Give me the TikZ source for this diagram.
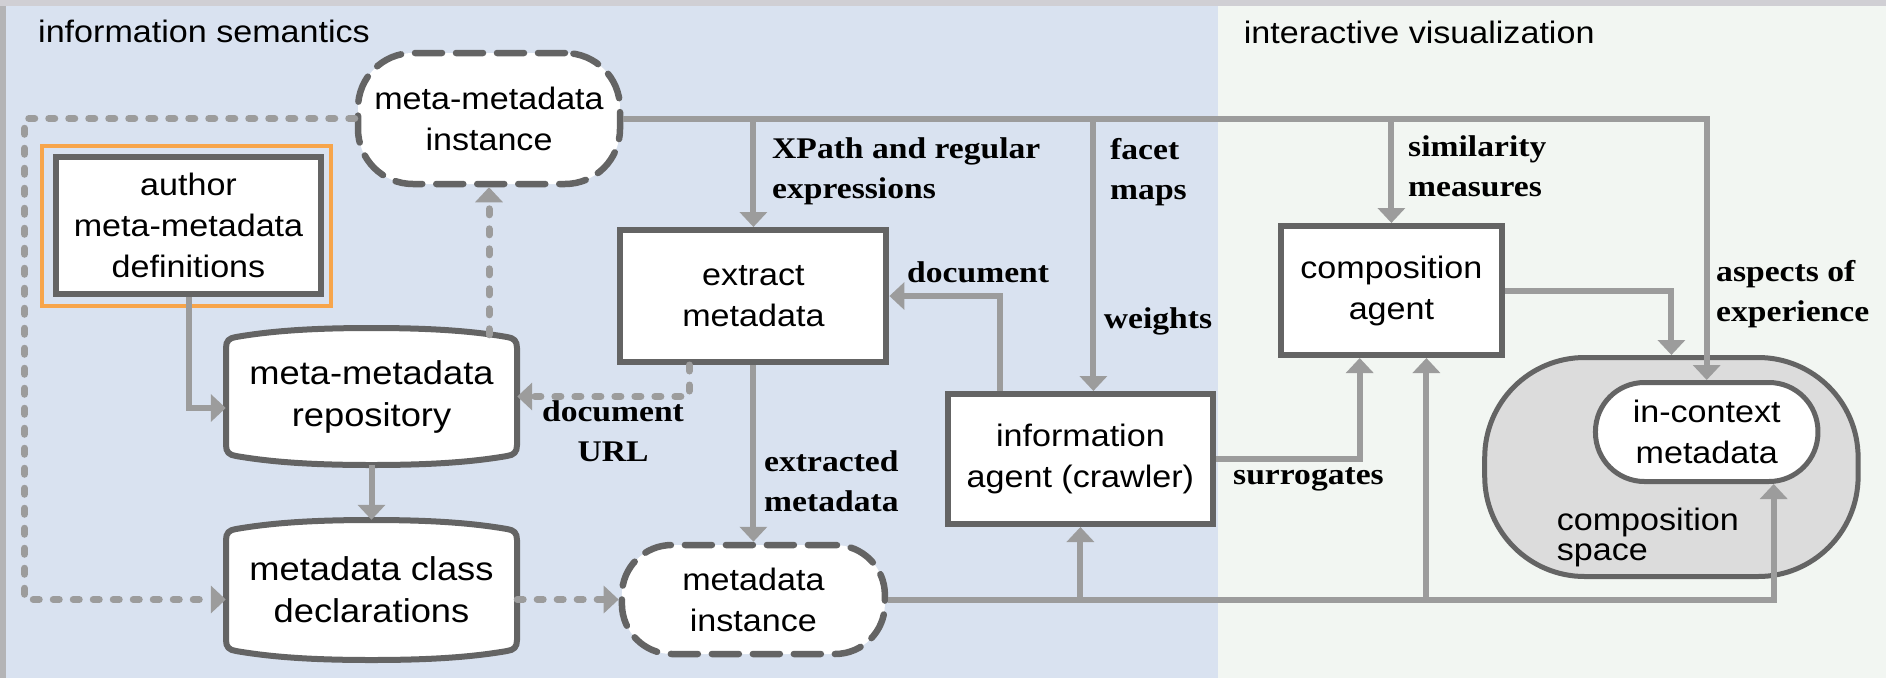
\documentclass[tikz,border=0pt]{standalone}
\usepackage{fontspec}
\setmainfont{Liberation Sans}[FakeStretch=1.1]
\newfontfamily\lblserif{Liberation Serif}[FakeStretch=1.12]
\usetikzlibrary{arrows.meta,calc}
\definecolor{dg}{HTML}{646464}
\definecolor{lg}{HTML}{9C9C9C}
\definecolor{orng}{HTML}{F7A54B}
\definecolor{bluebg}{HTML}{D9E2F0}
\definecolor{greenbg}{HTML}{F2F6F2}
\definecolor{cfill}{HTML}{DCDCDC}
\definecolor{topgray}{HTML}{D0CFD4}
\definecolor{leftgray}{HTML}{B4B4B6}
\newcommand\nodefont{\fontsize{31}{41}\selectfont}
\newcommand\tightfont{\fontsize{31}{30}\selectfont}
\newcommand\cylfont{\fontsize{33}{42}\selectfont}
\newcommand\lblfont{\lblserif\bfseries\fontsize{30}{40}\selectfont}
\newcommand\cylshape[4]{%
\pgfmathsetmacro\cm{(#1+#2)/2}%
\draw[cylline] (#1,#4-20) -- (#1,#3+20)
 .. controls (#1,#3+13) and (#1+3,#3+10) .. (#1+10,#3+9)
 .. controls (#1+45,#3+3) and (\cm-60,#3) .. (\cm,#3)
 .. controls (\cm+60,#3) and (#2-45,#3+3) .. (#2-10,#3+9)
 .. controls (#2-3,#3+10) and (#2,#3+13) .. (#2,#3+20)
 -- (#2,#4-20)
 .. controls (#2,#4-13) and (#2-3,#4-10) .. (#2-10,#4-9)
 .. controls (#2-45,#4-3) and (\cm+60,#4) .. (\cm,#4)
 .. controls (\cm-60,#4) and (#1+45,#4-3) .. (#1+10,#4-9)
 .. controls (#1+3,#4-10) and (#1,#4-13) .. (#1,#4-20) -- cycle;}
\tikzset{
 box/.style={draw=dg, line width=6pt, fill=white, inner sep=0pt, align=center, font=\nodefont, text=black},
 dashbox/.style={box, line width=6.5pt, dash pattern=on 27pt off 14pt, line cap=round, rounded corners=#1},
 cylline/.style={draw=dg, line width=6pt, fill=white},
 cyltext/.style={inner sep=0pt, align=center, font=\cylfont},
 arr/.style={draw=lg, line width=6pt, -{Triangle[width=27pt,length=15pt]}},
 dotarr/.style={draw=lg, line width=7pt, line cap=round, dash pattern=on 6pt off 14pt, -{Triangle[width=27pt,length=15pt]}},
 lbl/.style={font=\lblfont, inner sep=0pt, align=left, anchor=west},
 sect/.style={font=\nodefont, inner sep=0pt, anchor=west}
}
\begin{document}
\begin{tikzpicture}[x=1pt,y=-1pt]
\useasboundingbox (0,0) rectangle (1886,678);
% background
\fill[leftgray] (0,0) rectangle (6,678);
\fill[topgray] (0,0) rectangle (1886,6);
\fill[bluebg] (6,6) rectangle (1217.7,678);
\fill[greenbg] (1217.7,6) rectangle (1886,678);

\node[sect] (sem) at (38,31.5) {information semantics};
\node[sect] (vis) at (1243.7,32.5) {interactive visualization};

% nodes
\node[draw=orng, line width=4pt, inner sep=0pt, minimum width=289pt, minimum height=160pt] (orange) at (186.5,226) {};
\node[box, minimum width=265pt, minimum height=137pt] (author) at (188.5,225.5) {author\\meta-metadata\\definitions};
\node[dashbox=55pt, minimum width=262pt, minimum height=131pt] (mmi) at (489,118.5) {meta-metadata\\instance};
\cylshape{226}{517}{328}{465}
\node[cyltext, minimum width=291pt, minimum height=137pt] (repo) at (371.5,396.5) {meta-metadata\\repository};
\cylshape{226}{517}{520}{660}
\node[cyltext, minimum width=291pt, minimum height=140pt] (decl) at (371.5,590) {metadata class\\declarations};
\node[box, minimum width=266pt, minimum height=132pt] (ext) at (753.4,296) {extract\\metadata};
\node[box, minimum width=264.7pt, minimum height=130pt] (info) at (1080.4,459) {information\\agent (crawler)};
\node[dashbox=50pt, minimum width=263pt, minimum height=109pt] (mi) at (753.4,599.5) {metadata\\instance};
\node[box, minimum width=221pt, minimum height=129pt] (comp) at (1391.4,290.5) {composition\\agent};
\node[box, fill=cfill, line width=5pt, rounded corners=100pt, minimum width=373.4pt, minimum height=219pt] (cspace) at (1671.4,467) {};
\node[font=\tightfont, inner sep=0pt, align=left, anchor=west] (cspacelbl) at (1556.6,537) {composition\\space};
\node[box, line width=5pt, rounded corners=49pt, minimum width=222.5pt, minimum height=99pt] (ictx) at (1706.7,432) {in-context\\metadata};

% helper coordinates
\coordinate (lc) at (24.5,118.5);
\coordinate (fx) at ($(info.north)+(13,0)$);
\coordinate (dx) at ($(info.north)+(-80,0)$);
\coordinate (ux) at ($(ext.south)+(-64,0)$);
\coordinate (bx) at ($(ictx.south)+(67,0)$);
\coordinate (cx) at ($(comp.south)+(35,0)$);
\coordinate (sx) at ($(comp.south)+(-31.7,0)$);
\coordinate (ra) at ($(repo.west)+(0,11.5)$);
\coordinate (rt) at ($(mmi.south |- repo.north)+(0,7)$);

% connectors
\draw[arr] (mmi.east) -| (ictx.north);
\draw[arr] (ext.north |- mmi.east) -- (ext.north);
\draw[arr] (fx |- mmi.east) -- (fx);
\draw[arr] (comp.north |- mmi.east) -- (comp.north);
\draw[arr] (dx) |- (ext.east);
\draw[dotarr] (ux) |- (repo.east);
\draw[arr] (ext.south) -- (mi.north);
\draw[arr] (mi.east) -| (bx);
\draw[arr] (info.south |- mi.east) -- (info.south);
\draw[arr] (cx |- mi.east) -- (cx);
\draw[arr] (info.east) -| (sx);
\draw[arr] (comp.east) -| (cspace.north);
\draw[arr] (author.south) |- (ra);
\draw[arr] (repo.south) -- (decl.north);
\draw[dotarr] (mmi.west) -- (lc) |- (decl.west |- mi.west);
\draw[dotarr] (decl.east |- mi.west) -- (mi.west);
\draw[dotarr] (rt) -- (mmi.south);

% labels
\node[lbl] (l1) at (772,170.8) {XPath and regular\\expressions};
\node[lbl] (l2) at (1110,171.7) {facet\\maps};
\node[lbl] (l3) at (1103.7,321) {weights};
\node[lbl] (l4) at (907,272.5) {document};
\node[font=\lblfont, inner sep=0pt, align=center] (l5) at (613,431.7) {document\\URL};
\node[lbl] (l6) at (764,481) {extracted\\metadata};
\node[lbl] (l7) at (1408,165.8) {similarity\\measures};
\node[lbl] (l8) at (1716,294) {aspects of\\experience};
\node[lbl] (l9) at (1233,479) {surrogates};
\end{tikzpicture}
\end{document}
